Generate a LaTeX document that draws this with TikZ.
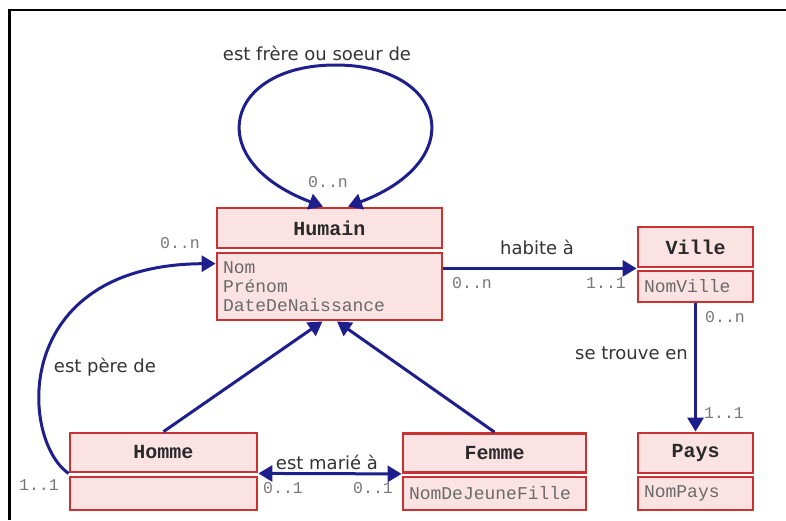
\documentclass[tikz,border=0pt]{standalone}
\usepackage{fontspec}
\setmainfont{DejaVu Sans}
\newfontfamily\umlmono{Liberation Mono}
\usetikzlibrary{arrows.meta,calc}
\definecolor{boxfill}{HTML}{FCE3E3}
\definecolor{boxline}{HTML}{C83232}
\definecolor{assoccol}{HTML}{1E1E8C}
\definecolor{multcol}{HTML}{777777}
\definecolor{attrcol}{HTML}{6A6A6A}
\definecolor{hdrcol}{HTML}{2A2A2A}
\definecolor{lblcol}{HTML}{333333}
\begin{document}
\begin{tikzpicture}[x=1pt,y=-1pt,
  classbox/.style={draw=boxline, fill=boxfill, line width=2.8pt, rectangle, inner sep=0pt},
  hdr/.style={classbox, font=\umlmono\bfseries\fontsize{20}{22}\selectfont, text=hdrcol},
  attr/.style={classbox, font=\umlmono\fontsize{18}{19}\selectfont, text=attrcol,
    align=left, inner xsep=6pt},
  assoc/.style={draw=assoccol, line width=3pt,
    >={Triangle[length=14pt,width=16pt]}},
  mult/.style={font=\umlmono\fontsize{16.5}{18}\selectfont, text=multcol, inner sep=0pt},
  lbl/.style={font=\fontsize{18}{20}\selectfont, text=lblcol, inner sep=0pt}]

\useasboundingbox (0,0) rectangle (786,520);
% frame
\draw[line width=2.5pt] (9.5,520) -- (9.5,10) -- (786,10);

% classes
\node[hdr, minimum width=225pt, minimum height=40pt] (humainH) at (329.5,228) {Humain};
\node[attr, text width=213pt, minimum height=67pt] (humainA) at (329.5,286.5)
  {Nom\\Prénom\\DateDeNaissance};

\node[hdr, minimum width=115pt, minimum height=40pt] (villeH) at (695.5,247) {Ville};
\node[attr, text width=103pt, minimum height=31pt] (villeA) at (695.5,286.5) {NomVille};

\node[hdr, minimum width=115pt, minimum height=40pt] (paysH) at (695.5,453) {Pays};
\node[attr, text width=103pt, minimum height=33pt] (paysA) at (695.5,493.5) {NomPays};

\node[hdr, minimum width=187pt, minimum height=39pt] (hommeH) at (163.5,452.5) {Homme};
\node[attr, text width=175pt, minimum height=33pt] (hommeA) at (163.5,493.5) {};

\node[hdr, minimum width=183pt, minimum height=39pt] (femmeH) at (494.5,453) {Femme};
\node[attr, text width=171pt, minimum height=33pt] (femmeA) at (494.5,493.5) {NomDeJeuneFille};

% est frère ou soeur de (reflexive)
\draw[assoc,<->] ([xshift=-6.5pt]humainH.north)
  .. controls (200,160) and (225,65) .. (335.5,65)
  .. controls (446,65) and (471,160) .. ([xshift=18.5pt]humainH.north);
\node[lbl] (lfrere) at (317,53) {est frère ou soeur de};
\node[mult] (mfrere) at (328,182) {0..n};

% habite à
\draw[assoc,->] (humainA.east |- villeH.south west) -- (villeH.south west);
\node[lbl] (lhabite) at (537,247) {habite à};
\node[mult] (mhab1) at (472,283) {0..n};
\node[mult] (mhab2) at (606,283) {1..1};

% se trouve en
\draw[assoc,->] (villeA.south) -- (paysH.north);
\node[lbl, anchor=east] (ltrouve) at (688,353) {se trouve en};
\node[mult] (mtr1) at (725,317) {0..n};
\node[mult] (mtr2) at (724,413) {1..1};

% specialisation
\draw[assoc,->] (hommeH.north) -- ([xshift=-7pt]humainA.south);
\draw[assoc,->] (femmeH.north) -- ([xshift=7.5pt]humainA.south);

% est père de
\draw[assoc,->] (hommeH.south west)
  .. controls (20,440) and (10,265) .. ([yshift=-12pt]humainA.north west);
\node[lbl] (lpere) at (105,367) {est père de};
\node[mult] (mpere1) at (180,243) {0..n};
\node[mult] (mpere2) at (39,485) {1..1};

% est marié à
\draw[assoc,<->] (hommeH.south east) -- (femmeH.south west);
\node[lbl] (lmarie) at (327,462) {est marié à};
\node[mult] (mmar1) at (283,488) {0..1};
\node[mult] (mmar2) at (373,488) {0..1};
\end{tikzpicture}
\end{document}
